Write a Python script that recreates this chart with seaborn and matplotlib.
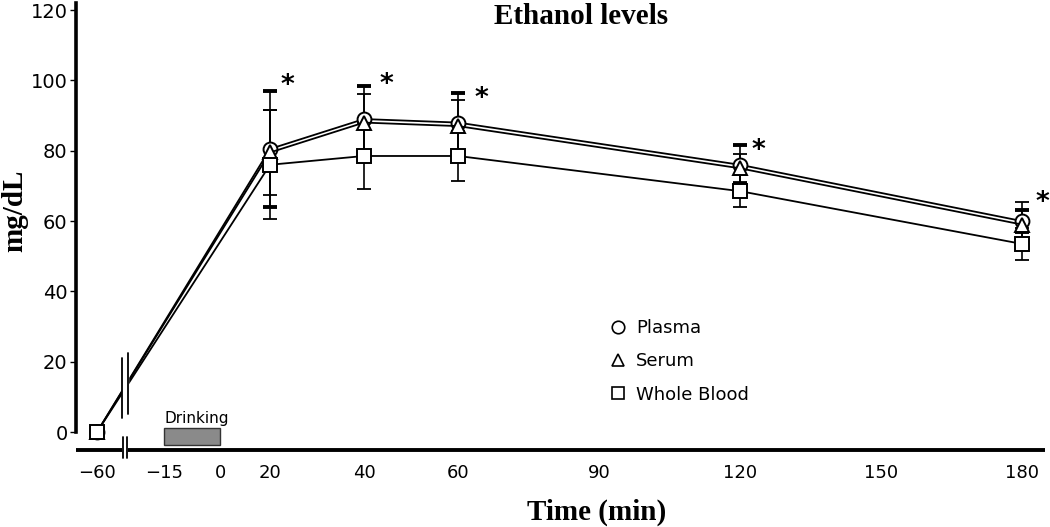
import numpy as np
import pandas as pd
import matplotlib
matplotlib.use("Agg")
import matplotlib.pyplot as plt
import seaborn as sns
from matplotlib.lines import Line2D
from matplotlib.patches import Rectangle

# data
times = [-60, 20, 40, 60, 120, 180]
plasma = [0, 80.5, 89, 88, 76, 60]
serum = [0, 79.5, 88, 87, 75, 59]
whole_blood = [0, 76, 78.5, 78.5, 68.5, 53.5]
# SEM, for the time points after drinking
plasma_err = [16.5, 9.5, 8.5, 5.5, 3]
serum_err = [12, 8, 7.5, 4, 6.5]
blood_err = [15.5, 9.5, 7, 4.5, 4.5]
star_times = [23.8, 44.7, 64.9, 124, 184.3]
star_levels = [98.5, 98.8, 94.8, 80, 65]
xtick_values = [-60, -15, 0, 20, 40, 60, 90, 120, 150, 180]
ytick_values = [0, 20, 40, 60, 80, 100, 120]
drink_start, drink_end = -15, 0

# broken, uneven time axis
scale_t = [-80, -60, -15, 0, 20, 180, 200]
scale_p = [67.2, 97, 164, 220, 270, 1022, 1116]


def fwd(t):
    return np.interp(t, scale_t, scale_p)


def inv(p):
    return np.interp(p, scale_p, scale_t)


df = pd.concat([
    pd.DataFrame({"time": times, "mg/dL": plasma, "series": "Plasma"}),
    pd.DataFrame({"time": times, "mg/dL": serum, "series": "Serum"}),
    pd.DataFrame({"time": times, "mg/dL": whole_blood, "series": "Whole Blood"}),
])

sns.set_style("white")
plt.rcParams["text.color"] = "black"
plt.rcParams["xtick.color"] = "black"
plt.rcParams["ytick.color"] = "black"

fig = plt.figure(figsize=(10.5, 5.27), dpi=100)
ax = fig.add_axes([76 / 1050, 1 - 450 / 527, (1045 - 76) / 1050, 447 / 527])
ax.set_xscale("function", functions=(fwd, inv))

# error bars under the markers
ax.errorbar(times[1:], plasma[1:], yerr=plasma_err, fmt="none", ecolor="black",
            elinewidth=1.2, capsize=5, capthick=2.8, zorder=1)
ax.errorbar(times[1:], serum[1:], yerr=serum_err, fmt="none", ecolor="black",
            elinewidth=1.2, capsize=5, capthick=1.3, zorder=1)
ax.errorbar(times[1:], whole_blood[1:], yerr=blood_err, fmt="none", ecolor="black",
            elinewidth=1.2, capsize=5, capthick=1.3, zorder=1)

sns.lineplot(data=df, x="time", y="mg/dL", style="series",
             style_order=["Plasma", "Serum", "Whole Blood"],
             markers=["o", "^", "s"], dashes=False, color="black",
             linewidth=1.3, markersize=10, markerfacecolor="white",
             markeredgecolor="black", markeredgewidth=1.4,
             sort=False, legend=False, errorbar=None, ax=ax)

# break marks on the curves
ax.fill_betweenx([3, 24], -43.3, -39.2, color="white", zorder=3)
ax.plot([-43.3, -43.3], [4, 21], color="black", lw=1.3, zorder=4)
ax.plot([-39.2, -39.2], [5, 22.5], color="black", lw=1.3, zorder=4)

# x axis line with a break
ybase = -5.1
ax.plot([-74.1, -43.3], [ybase, ybase], color="black", lw=2.8, clip_on=False,
        solid_capstyle="butt")
ax.plot([-39.2, 184.9], [ybase, ybase], color="black", lw=2.8, clip_on=False,
        solid_capstyle="butt")
ax.plot([-42.6, -42.6], [-1.4, -7.4], color="black", lw=1.3, clip_on=False)
ax.plot([-40.0, -40.0], [-1.4, -7.4], color="black", lw=1.3, clip_on=False)

# drinking period
ax.add_patch(Rectangle((drink_start, -3.7), drink_end - drink_start, 4.8,
                       facecolor="#8a8a8a", edgecolor="#333333", lw=1, zorder=2))
ax.text(drink_start, 2.6, "Drinking", fontsize=11, ha="left", va="baseline")

for st, sl in zip(star_times, star_levels):
    ax.text(st, sl, "*", fontsize=19, fontweight="bold", ha="center", va="center")

ax.set_xlim(-74.1, 184.9)
ax.set_ylim(ybase, 122)
ax.set_xticks(xtick_values)
ax.set_xticklabels([str(v).replace("-", "\u2212") for v in xtick_values])
ax.set_yticks(ytick_values)
ax.minorticks_off()
ax.tick_params(axis="x", length=0, pad=10, labelsize=13)
ax.tick_params(axis="y", length=4, width=1, pad=2, labelsize=14, left=True)
for side in ["top", "right", "bottom"]:
    ax.spines[side].set_visible(False)
ax.spines["left"].set_bounds(0, 122)
ax.spines["left"].set_linewidth(2.6)
ax.spines["left"].set_color("black")
ax.set_xlabel("")
ax.set_ylabel("")

fig.text(581 / 1050, 1 - 17 / 527, "Ethanol levels", family="Liberation Serif",
         fontweight="bold", fontsize=21, ha="center", va="center")
fig.text(597 / 1050, 1 - 512 / 527, "Time (min)", family="Liberation Serif",
         fontweight="bold", fontsize=21, ha="center", va="center")
fig.text(15 / 1050, 1 - 211 / 527, "mg/dL", family="Liberation Serif",
         fontweight="bold", fontsize=21, ha="center", va="center", rotation=90)

handles = [
    Line2D([], [], marker="o", ls="none", mfc="white", mec="black", mew=1.2, ms=9),
    Line2D([], [], marker="^", ls="none", mfc="white", mec="black", mew=1.2, ms=9),
    Line2D([], [], marker="s", ls="none", mfc="white", mec="black", mew=1.2, ms=9),
]
ax.legend(handles, ["Plasma", "Serum", "Whole Blood"], loc="upper left",
          bbox_to_anchor=(611 / 1050, 1 - 319 / 527), bbox_transform=fig.transFigure,
          frameon=False, fontsize=13, handlelength=0.8, handletextpad=0.6,
          labelspacing=0.85, borderpad=0, borderaxespad=0)

fig.savefig("out.png", dpi=100)
